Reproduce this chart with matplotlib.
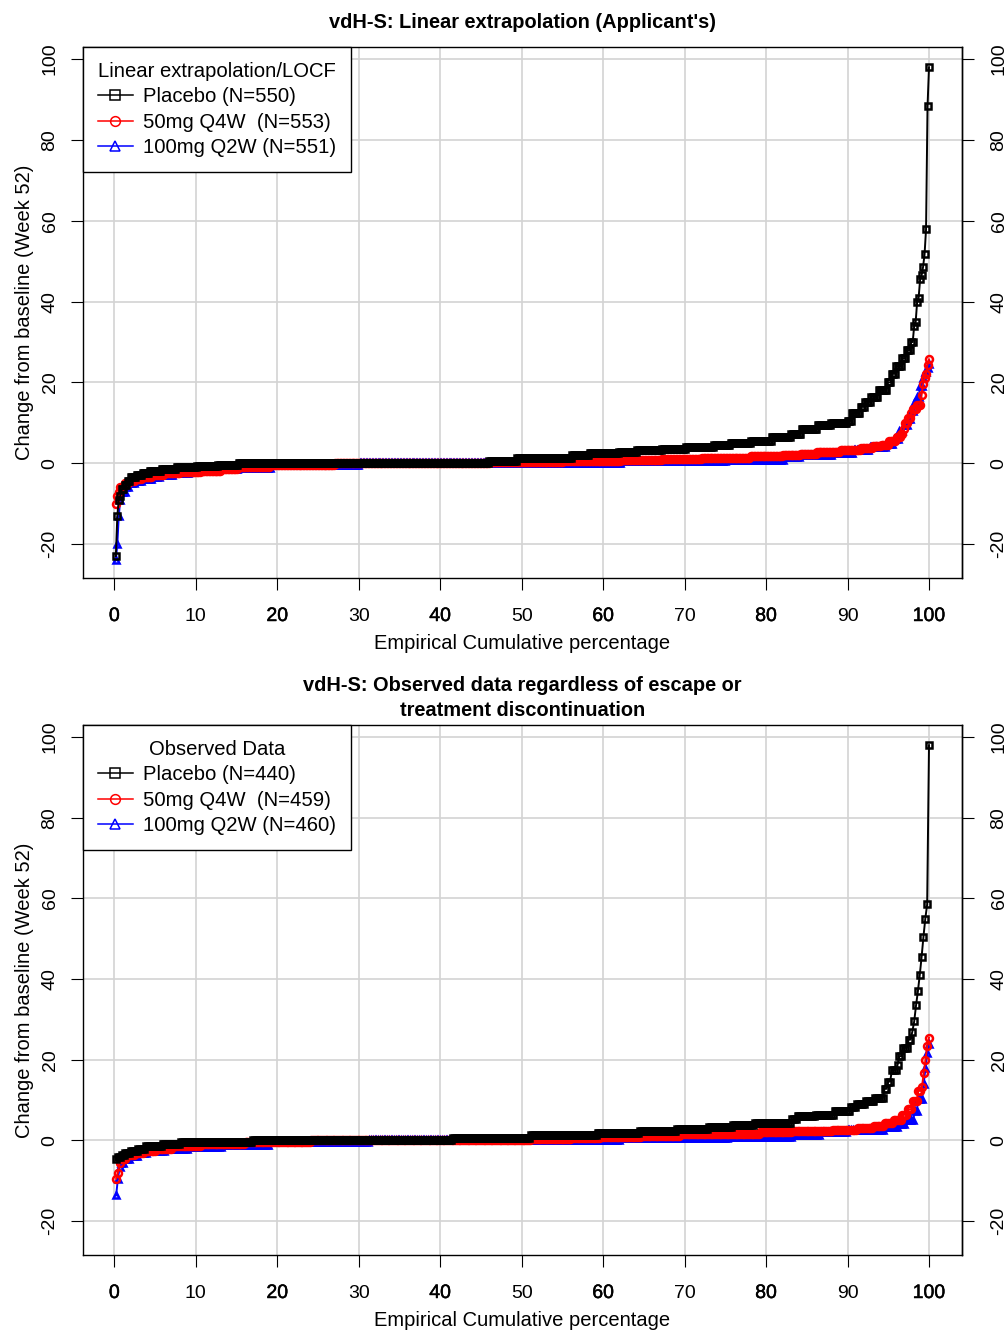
import numpy as np
import matplotlib
matplotlib.use("Agg")
import matplotlib.pyplot as plt
import matplotlib.patheffects as pe
from matplotlib.lines import Line2D

plt.rcParams['font.family'] = ['Liberation Sans', 'DejaVu Sans']

# ---- Panel A: linear extrapolation / LOCF ----
# sorted change scores (levels) and cumulative % of patients up to that level
n_pbo_a, n_50_a, n_100_a = 550, 553, 551
lev_pbo_a = [-23, -13, -9, -8, -6.5, -5.5, -4.5, -3.5, -3, -2.5, -2, -1.5, -1, -0.67, -0.33,
             0, 0.67, 1.33, 2, 2.5, 2.9, 3.2, 3.6, 4, 4.4, 4.9, 5.5, 6.5, 7.2, 8.5, 9.5, 10,
             10.5, 12.5, 14, 15.2, 16.5, 18.2, 20, 22.2, 24, 26, 28, 30, 34, 35, 40, 41,
             45.5, 46.5, 48.6, 51.7, 57.9, 88.3, 98]
cum_pbo_a = [0.18, 0.36, 0.55, 0.73, 1.1, 1.45, 1.8, 2.55, 3.3, 4.2, 5.6, 7.5, 10, 12.5, 15.1,
             45.8, 49.3, 56, 58.2, 61.8, 64, 67.1, 70, 73.5, 75.5, 78, 80.5, 83, 84.1, 86.1,
             87.9, 89.9, 90.4, 91.5, 92, 92.7, 93.6, 94.7, 95.3, 95.8, 96.5, 97.1, 97.6, 98.0,
             98.18, 98.36, 98.55, 98.73, 98.91, 99.09, 99.27, 99.45, 99.64, 99.82, 100]
lev_50_a = [-10, -8, -7, -6, -5, -4.5, -4, -3.5, -3, -2.5, -2.2, -1.8, -1.4, -1, -0.5, 0, 0.3,
            0.5, 0.7, 1, 1.3, 1.7, 2, 2.4, 2.8, 3.3, 3.7, 4.2, 4.6, 5.6, 6.5, 7.2, 8.5, 9.9,
            11.2, 12.5, 13.5, 14.3, 17, 19.6, 21, 22.2, 24.4, 25.7]
cum_50_a = [0.18, 0.36, 0.6, 1, 1.6, 2.4, 3.3, 4.5, 6, 8, 10.5, 13, 15, 19, 27, 46, 55, 62, 67,
            72, 78, 82, 84, 86, 89, 91.5, 93, 94, 95, 95.8, 96.3, 96.7, 97, 97.3, 97.6, 97.9,
            98.4, 98.9, 99.1, 99.3, 99.5, 99.64, 99.82, 100]
lev_100_a = [-24, -20, -13, -9, -7, -6, -5, -4.5, -4, -3.5, -3, -2.5, -2, -1.5, -1.2, -0.5, 0,
             0.5, 0.8, 1.5, 2, 2.5, 3.2, 4, 4.8, 6, 8, 9.5, 11, 13, 15, 16.5, 19, 21, 22.5,
             23.5, 24.5]
cum_100_a = [0.18, 0.36, 0.54, 0.8, 1.2, 1.6, 2.4, 3.3, 4.5, 5.5, 7, 9, 12, 15, 19, 30, 62, 75,
             82, 84, 88, 90.5, 92.5, 94.5, 95.5, 96.2, 96.8, 97.2, 97.6, 98, 98.4, 98.8, 99.1,
             99.3, 99.64, 99.82, 100]

# ---- Panel B: observed data ----
n_pbo_b, n_50_b, n_100_b = 440, 459, 460
lev_pbo_b = [-4.5, -4, -3.5, -3, -2.5, -2, -1.5, -1, -0.5, 0, 0.66, 1.3, 1.9, 2.4, 2.8, 3.4,
             3.9, 4.4, 5.2, 6, 6.4, 7.3, 8.2, 9, 9.8, 10.6, 12.8, 14.6, 17.5, 18.7, 20.9, 23,
             25, 27, 29.5, 33.5, 37, 41, 45.5, 50.5, 55, 58.5, 98]
cum_pbo_b = [0.23, 0.7, 1.2, 1.8, 2.7, 3.6, 5.6, 8, 16.8, 41.4, 50.8, 59.2, 64.3, 68.8, 72.7,
             75.6, 78.4, 83, 83.6, 86, 88.2, 90.3, 91, 92, 93.2, 94.3, 94.8, 95.2, 95.8, 96.2,
             96.6, 97.2, 97.8, 98, 98.2, 98.4, 98.6, 98.9, 99.1, 99.3, 99.5, 99.8, 100]
lev_50_b = [-9.5, -8, -5.5, -4.5, -3.5, -3, -2.5, -2, -1.5, -1, -0.5, 0, 0.3, 0.5, 0.8, 1.1,
            1.6, 2.1, 2.4, 2.6, 3, 3.6, 4.3, 5.1, 6.4, 7.7, 9.8, 12.3, 13.2, 16.6, 20, 23.4, 25.5]
cum_50_b = [0.22, 0.44, 0.7, 1.3, 2.5, 3.5, 5, 7, 10.5, 16, 24, 51, 56, 59.5, 64.5, 69.2, 79,
            83, 88, 91, 93, 94.3, 95.5, 96.5, 97.2, 97.8, 98.5, 98.9, 99.13, 99.35, 99.56,
            99.78, 100]
lev_100_b = [-13.6, -9.5, -6.7, -5.5, -4.5, -3.8, -3.2, -2.6, -2.2, -1.7, -1.2, -0.5, 0, 0.5,
             0.8, 1.3, 2, 2.6, 3.4, 4.2, 5.1, 7.2, 10.2, 14, 17.9, 21.7, 23.8]
cum_100_b = [0.22, 0.43, 0.65, 1, 1.7, 2.8, 4, 6, 9, 13, 19, 31, 62, 75.3, 83, 86.6, 89.7,
             94.3, 96, 97, 98, 98.5, 99.13, 99.35, 99.57, 99.78, 100]

x_ticks = [0, 10, 20, 30, 40, 50, 60, 70, 80, 90, 100]
y_ticks = [-20, 0, 20, 40, 60, 80, 100]


def ecdf_points(levels, cum_pct, n):
    # expand the frequency table into n sorted values, x = empirical cumulative %
    cum_n = np.round(np.asarray(cum_pct) * n / 100).astype(int)
    counts = np.diff(np.concatenate([[0], cum_n]))
    vals = np.repeat(levels, counts)
    pct = np.arange(1, n + 1) / n * 100
    return pct, vals


def draw_panel(ax, series, labels, leg_title):
    ax.set_xlim(-3.85, 104.05)
    ax.set_ylim(-28.4, 103.0)
    for x in x_ticks:
        ax.axvline(x, color='#d3d3d3', lw=1.2, zorder=0)
    for y in y_ticks:
        ax.axhline(y, color='#d3d3d3', lw=1.2, zorder=0)

    # blue first, then red, then black on top
    for (levels, cum, n), col, mk in reversed(list(zip(series, ['black', 'red', 'blue'], ['s', 'o', '^']))):
        px, vy = ecdf_points(levels, cum, n)
        ax.plot(px, vy, color=col, lw=1.4, marker=mk, ms=5, mfc='none', mew=1.8, zorder=2)

    handles = [Line2D([], [], color=c, marker=m, mfc='none', ms=7, mew=1.1, lw=1.1)
               for c, m in zip(['black', 'red', 'blue'], ['s', 'o', '^'])]
    leg = ax.legend(handles, labels, loc='upper left', title=leg_title, fontsize=14.6,
                    title_fontsize=14.6, fancybox=False, edgecolor='black', framealpha=1,
                    borderaxespad=0, borderpad=0.75, labelspacing=0.31, handlelength=1.7,
                    handletextpad=0.5)
    leg.get_frame().set_linewidth(1.0)

    for s in ax.spines.values():
        s.set_linewidth(1.0)
    ax.set_xticks(x_ticks)
    ax.set_xticklabels([str(v) for v in x_ticks])
    ax.set_yticks(y_ticks)
    ax.set_yticklabels([str(v) for v in y_ticks])
    ax.tick_params(axis='x', length=8.6, width=0.8, labelsize=14, pad=13)
    ax.tick_params(axis='y', length=8.6, width=0.8, labelsize=14, pad=9)
    plt.setp(ax.get_yticklabels(), rotation=90, va='center')
    # labels at 20-steps look heavier in the original (axis drawn twice)
    for lab, v in zip(ax.get_xticklabels(), x_ticks):
        if v % 20 == 0:
            lab.set_path_effects([pe.withStroke(linewidth=0.35, foreground='black')])

    sax = ax.secondary_yaxis('right')
    sax.set_yticks(y_ticks)
    sax.set_yticklabels([str(v) for v in y_ticks])
    sax.tick_params(length=8.6, width=0.8, labelsize=14, pad=12)
    sax.spines['right'].set_linewidth(1.0)
    plt.setp(sax.get_yticklabels(), rotation=90, va='center')

    ax.set_xlabel('Empirical Cumulative percentage', fontsize=14.5)
    ax.xaxis.set_label_coords(0.5, -0.106)
    ax.set_ylabel('Change from baseline (Week 52)', fontsize=14.5)
    ax.yaxis.set_label_coords(-0.056, 0.5)


fig = plt.figure(figsize=(10.05, 13.34), dpi=100)
ax1 = fig.add_axes([83 / 1005, 1 - 578 / 1334, 879 / 1005, 531 / 1334])
ax2 = fig.add_axes([83 / 1005, 1 - 1255 / 1334, 879 / 1005, 530 / 1334])

draw_panel(ax1,
           [(lev_pbo_a, cum_pbo_a, n_pbo_a), (lev_50_a, cum_50_a, n_50_a), (lev_100_a, cum_100_a, n_100_a)],
           ['Placebo (N=550)', '50mg Q4W  (N=553)', '100mg Q2W (N=551)'],
           'Linear extrapolation/LOCF')
draw_panel(ax2,
           [(lev_pbo_b, cum_pbo_b, n_pbo_b), (lev_50_b, cum_50_b, n_50_b), (lev_100_b, cum_100_b, n_100_b)],
           ['Placebo (N=440)', '50mg Q4W  (N=459)', '100mg Q2W (N=460)'],
           'Observed Data')

cx = (83 + 962) / 2 / 1005
fig.text(cx, 1 - 28 / 1334, "vdH-S: Linear extrapolation (Applicant's)", ha='center', va='baseline',
         fontsize=14.4, fontweight='bold')
fig.text(cx, 1 - 691 / 1334, 'vdH-S: Observed data regardless of escape or', ha='center',
         va='baseline', fontsize=14.4, fontweight='bold')
fig.text(cx, 1 - 716 / 1334, 'treatment discontinuation', ha='center', va='baseline',
         fontsize=14.4, fontweight='bold')

fig.savefig('out.png', dpi=100)
